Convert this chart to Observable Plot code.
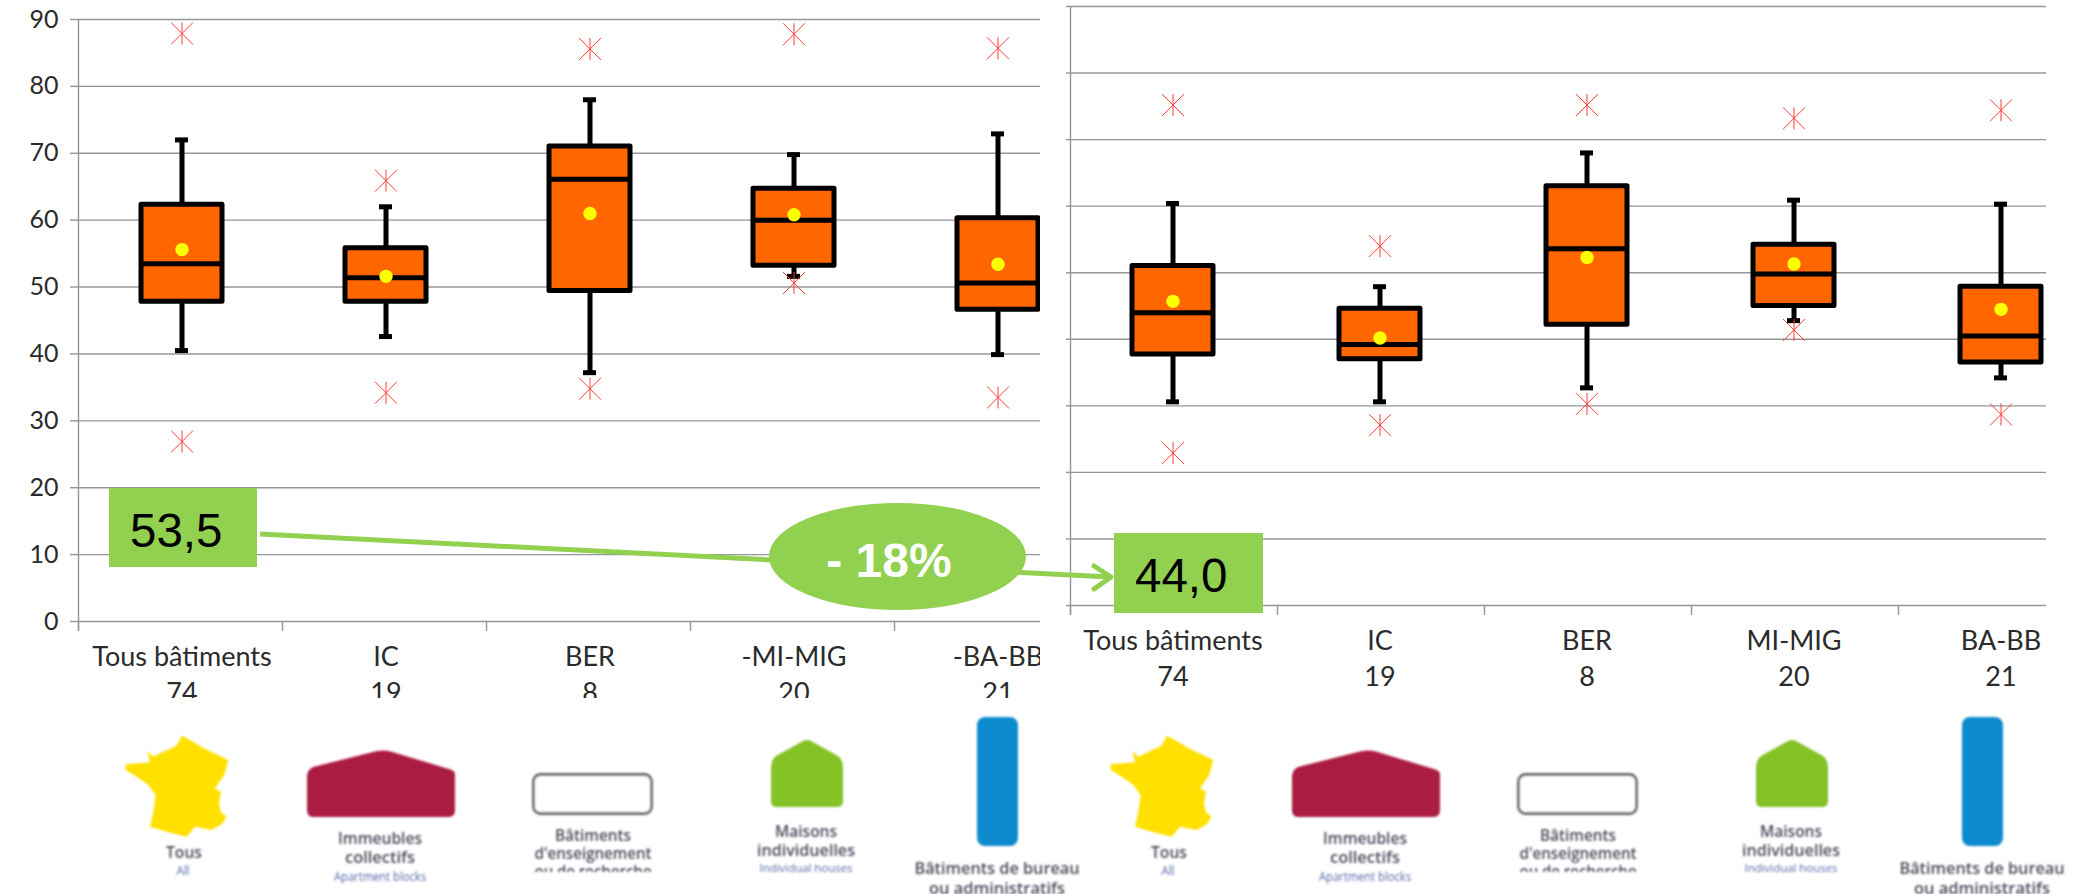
<!DOCTYPE html>
<html lang="fr">
<head>
<meta charset="utf-8">
<title>Boîtes à moustaches par type de bâtiment</title>
<script src="https://cdn.jsdelivr.net/npm/d3@7"></script>
<script src="https://cdn.jsdelivr.net/npm/@observablehq/plot@0.6"></script>
<style>
  html, body { margin: 0; background: #fff; }
  #stage { position: relative; width: 2073px; height: 894px; overflow: hidden; background: #fff; }
  #stage svg { position: absolute; overflow: hidden; background: none; }
</style>
</head>
<body>
<div id="stage"></div>
<script>
// Tick values and category counts shared by both panels
const yTicks = [0, 10, 20, 30, 40, 50, 60, 70, 80, 90];
const counts = [74, 19, 8, 20, 21];

// First campaign
const leftCategories = ["Tous bâtiments", "IC", "BER", "-MI-MIG", "-BA-BB"];
const leftHigh   = [72.0, 62.0, 78.0, 69.8, 72.9];
const leftQ3     = [62.3, 55.8, 71.0, 64.7, 60.3];
const leftMedian = [53.5, 51.4, 66.1, 60.0, 50.6];
const leftQ1     = [47.8, 47.8, 49.4, 53.2, 46.6];
const leftLow    = [40.5, 42.6, 37.2, 51.6, 39.9];
const leftMean   = [55.6, 51.6, 61.0, 60.8, 53.4];
const leftOutUp  = [87.9, 65.9, 85.6, 87.8, 85.7];
const leftOutLo  = [26.9, 34.2, 34.8, 50.6, 33.5];

// Second campaign
const rightCategories = ["Tous bâtiments", "IC", "BER", "MI-MIG", "BA-BB"];
const rightHigh   = [60.4, 47.9, 68.0, 60.9, 60.3];
const rightQ3     = [51.0, 44.6, 63.0, 54.2, 47.9];
const rightMedian = [44.0, 39.2, 53.6, 49.8, 40.5];
const rightQ1     = [37.7, 37.0, 42.2, 45.0, 36.5];
const rightLow    = [30.6, 30.6, 32.7, 42.8, 34.2];
const rightMean   = [45.7, 40.2, 52.3, 51.3, 44.5];
const rightOutUp  = [75.2, 54.0, 75.2, 73.2, 74.4];
const rightOutLo  = [22.9, 27.1, 30.3, 41.4, 28.7];

const stage = document.getElementById("stage");
const gridColor = "#969696";

// Outlier marker: a vertical stroke crossed by an X
const starSymbol = {
  draw(context, size) {
    const h = Math.sqrt(size / Math.PI);
    context.moveTo(0, -h); context.lineTo(0, h);
    context.moveTo(-h, -h); context.lineTo(h, h);
    context.moveTo(-h, h); context.lineTo(h, -h);
  }
};

function boxPanel({categories, high, q3, median, q1, low, mean, outUp, outLo,
                   left, top, width, height, marginLeft, marginTop, marginBottom,
                   bandStep, showYLabels, yTickSize, shift}) {
  const rows = categories.map((c, i) => ({
    c, high: high[i], q3: q3[i], median: median[i], q1: q1[i], low: low[i],
    mean: mean[i], outUp: outUp[i], outLo: outLo[i]
  }));
  const outliers = rows.flatMap(d => [{c: d.c, v: d.outUp}, {c: d.c, v: d.outLo}]);
  const boxInset = (bandStep - 81) / 2;
  const capInset = (bandStep - 13) / 2;
  const chart = Plot.plot({
    width, height, marginLeft, marginRight: 0, marginTop, marginBottom,
    style: {background: "none"},
    x: {type: "band", domain: categories, padding: 0,
        range: [marginLeft, marginLeft + bandStep * categories.length]},
    y: {domain: [0, 90]},
    marks: [
      Plot.ruleY(yTicks, {stroke: gridColor, strokeWidth: 1.4}),
      // vertical axis line and the category separators below the baseline
      Plot.ruleX(categories, {x: d => d, dx: -bandStep / 2, y1: -1.5, y2: 0, stroke: gridColor, strokeWidth: 1.4}),
      Plot.ruleX(categories.slice(0, 1), {x: d => d, dx: -bandStep / 2, y1: -1.5, y2: 90, stroke: gridColor, strokeWidth: 1.4}),
      Plot.axisY({
        ticks: yTicks, tickSize: yTickSize, tickPadding: showYLabels ? 20 - yTickSize : 0,
        tickFormat: showYLabels ? d => String(d) : () => "",
        label: null, stroke: gridColor, strokeWidth: 1.4, color: "#2b2b2b", fontSize: 25,
        fontFamily: "Lato"
      }),
      Plot.axisX({
        tickSize: 0, tickPadding: 20, label: null, lineHeight: 1.3, color: "#2b2b2b",
        tickFormat: d => `${d}\n${counts[categories.indexOf(d)]}`,
        fontSize: 27, fontFamily: "Lato", dx: shift
      }),
      Plot.ruleX(rows, {x: "c", y1: "low", y2: "high", stroke: "#000", strokeWidth: 5, dx: shift}),
      Plot.tickY(rows, {x: "c", y: "high", insetLeft: capInset, insetRight: capInset, stroke: "#000", strokeWidth: 5, dx: shift}),
      Plot.tickY(rows, {x: "c", y: "low", insetLeft: capInset, insetRight: capInset, stroke: "#000", strokeWidth: 5, dx: shift}),
      Plot.barY(rows, {x: "c", y1: "q1", y2: "q3", insetLeft: boxInset, insetRight: boxInset,
                       fill: "#ff6600", stroke: "#000", strokeWidth: 5, strokeLinejoin: "round", dx: shift}),
      Plot.tickY(rows, {x: "c", y: "median", insetLeft: boxInset, insetRight: boxInset, stroke: "#000", strokeWidth: 5, dx: shift}),
      Plot.dot(outliers, {x: "c", y: "v", symbol: starSymbol, r: 11, fill: "none", stroke: "#ff3b3b", strokeWidth: 1, dx: shift}),
      Plot.dot(rows, {x: "c", y: "mean", r: 6.7, fill: "#ffff00", stroke: "none", dx: shift})
    ]
  });
  chart.style.left = `${left}px`;
  chart.style.top = `${top}px`;
  stage.appendChild(chart);
}

boxPanel({
  categories: leftCategories, high: leftHigh, q3: leftQ3, median: leftMedian, q1: leftQ1,
  low: leftLow, mean: leftMean, outUp: leftOutUp, outLo: leftOutLo,
  left: 0, top: 0, width: 1040, height: 698, marginLeft: 78, marginTop: 19, marginBottom: 77,
  bandStep: 204, showYLabels: true, yTickSize: 8, shift: 1.5
});

boxPanel({
  categories: rightCategories, high: rightHigh, q3: rightQ3, median: rightMedian, q1: rightQ1,
  low: rightLow, mean: rightMean, outUp: rightOutUp, outLo: rightOutLo,
  left: 1030, top: 0, width: 1016, height: 686, marginLeft: 40, marginTop: 6, marginBottom: 81,
  bandStep: 207, showYLabels: false, yTickSize: 4, shift: -1
});

// Annotations and pictograms on a layer covering the whole page
const overlay = d3.select(stage).append("svg")
  .attr("width", 2073).attr("height", 894)
  .style("left", 0).style("top", 0);

const defs = overlay.append("defs");
defs.append("filter").attr("id", "soft").attr("x", "-5%").attr("y", "-5%").attr("width", "110%").attr("height", "110%")
  .append("feGaussianBlur").attr("stdDeviation", 0.8);
defs.append("clipPath").attr("id", "cut")
  .append("rect").attr("x", 480).attr("y", 820).attr("width", 230).attr("height", 52);

const green = "#92d050";
const callouts = [
  {text: "53,5", x: 109, y: 488, w: 148, h: 79, tx: 130, ty: 547},
  {text: "44,0", x: 1114, y: 533, w: 149, h: 80, tx: 1135, ty: 592}
];

const trend = overlay.append("g").attr("fill", "none").attr("stroke", green).attr("stroke-width", 5);
trend.append("line").attr("x1", 260).attr("y1", 534).attr("x2", 1110).attr("y2", 577);
trend.append("polyline").attr("points", "1094,566 1111,577 1094,589")
  .attr("stroke-linecap", "round").attr("stroke-linejoin", "round");

overlay.selectAll(".callout").data(callouts).join("rect").attr("class", "callout")
  .attr("x", d => d.x).attr("y", d => d.y).attr("width", d => d.w).attr("height", d => d.h)
  .attr("fill", green);
overlay.selectAll(".calloutText").data(callouts).join("text").attr("class", "calloutText")
  .attr("x", d => d.tx).attr("y", d => d.ty)
  .attr("font-family", "Liberation Sans").attr("font-size", 47.5).attr("fill", "#000")
  .text(d => d.text);

overlay.append("ellipse").attr("cx", 897.5).attr("cy", 556.5).attr("rx", 128.5).attr("ry", 53.5).attr("fill", green);
overlay.append("text").attr("x", 889).attr("y", 577).attr("text-anchor", "middle")
  .attr("font-family", "Liberation Sans").attr("font-weight", 700).attr("font-size", 48).attr("fill", "#fff")
  .text("- 18%");

// Outline of France, roughly traced, in a 3x local grid
const franceOutline = [
  [200,32],[225,45],[270,72],[340,105],[328,150],[300,190],[318,200],[312,235],[318,262],[335,275],
  [320,298],[290,315],[240,305],[215,335],[160,322],[105,305],[115,260],[122,210],[100,180],[65,155],
  [32,135],[32,118],[105,112],[97,78],[115,95],[150,78],[185,62]
];

const iconTexts = [
  {lines: [
    {t: "Tous", x: 184, y: 852, w: 36, s: 17},
    {t: "All", x: 183, y: 871, w: 13, s: 12, small: true}
  ]},
  {lines: [
    {t: "Immeubles", x: 380, y: 838, w: 84, s: 16},
    {t: "collectifs", x: 380, y: 857, w: 70, s: 16},
    {t: "Apartment blocks", x: 380, y: 877, w: 92, s: 12, small: true}
  ]},
  {clip: true, lines: [
    {t: "Bâtiments", x: 593, y: 835, w: 76, s: 16},
    {t: "d'enseignement", x: 593, y: 853, w: 117, s: 16},
    {t: "ou de recherche", x: 593, y: 871, w: 117, s: 16}
  ]},
  {lines: [
    {t: "Maisons", x: 806, y: 831, w: 62, s: 16},
    {t: "individuelles", x: 806, y: 850, w: 98, s: 16},
    {t: "Individual houses", x: 806, y: 868, w: 93, s: 11.5, small: true}
  ]},
  {lines: [
    {t: "Bâtiments de bureau", x: 997, y: 868, w: 165, s: 17},
    {t: "ou administratifs", x: 997, y: 888, w: 136, s: 17}
  ]}
];

// The same legend row is drawn under each panel
for (const shift of [0, 985]) {
  const g = overlay.append("g").attr("transform", `translate(${shift},0)`).attr("filter", "url(#soft)");
  g.append("path").attr("transform", "translate(115,725) scale(0.3333)")
    .attr("d", d3.line().curve(d3.curveLinearClosed)(franceOutline)).attr("fill", "#ffe000");
  g.append("path").attr("d", "M307,777 Q307,770 313,767 L377,751 Q383,750 389,751 L449,769 Q455,771 455,774 L455,810 Q455,817 449,817 L313,817 Q307,817 307,810 Z")
    .attr("fill", "#ab1d42");
  g.append("rect").attr("x", 533.5).attr("y", 774.5).attr("width", 118).attr("height", 39).attr("rx", 7)
    .attr("fill", "#fff").attr("stroke", "#666").attr("stroke-width", 2.8);
  g.append("path").attr("d", "M771,768 Q771,760 776,756 L803,741 Q807,739 811,741 L838,756 Q843,760 843,768 L843,801 Q843,807 837,807 L777,807 Q771,807 771,801 Z")
    .attr("fill", "#84c225");
  g.append("rect").attr("x", 977).attr("y", 717).attr("width", 41).attr("height", 129).attr("rx", 8).attr("fill", "#0e8bce");
  for (const block of iconTexts) {
    const tg = g.append("g");
    if (block.clip) tg.attr("clip-path", "url(#cut)");
    for (const l of block.lines) {
      tg.append("text").attr("x", l.x).attr("y", l.y).attr("dy", "0.36em")
        .attr("text-anchor", "middle")
        .attr("font-family", "Open Sans").attr("font-weight", l.small ? 400 : 600)
        .attr("font-size", l.s).attr("fill", l.small ? "#5568a8" : "#4b4b5c")
        .attr("textLength", l.w).attr("lengthAdjust", "spacingAndGlyphs")
        .text(l.t);
    }
  }
}
</script>
</body>
</html>
